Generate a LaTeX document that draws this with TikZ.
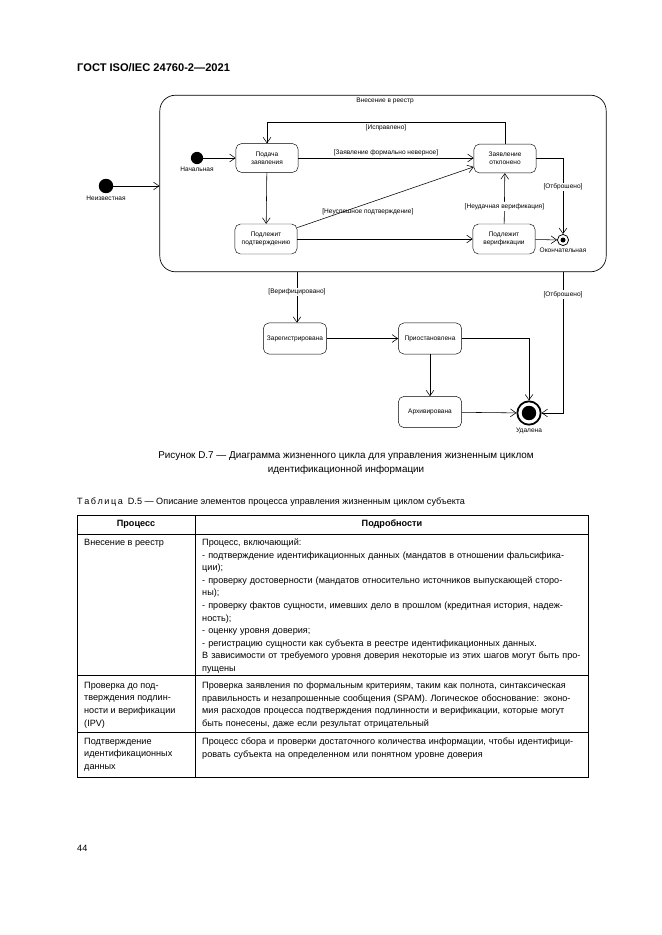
\documentclass[tikz,border=0pt]{standalone}
\usepackage{fontspec}
\setmainfont{Liberation Sans}
\usetikzlibrary{arrows.meta,positioning}
\newlength{\detw}
\setlength{\detw}{339pt}
\newcommand{\jl}[1]{\makebox[\detw][s]{#1}}
\begin{document}
\begin{tikzpicture}[x=0.9006pt,y=-0.9006pt,
    stbox/.style={draw,rounded corners=5pt,minimum width=56pt,minimum height=26pt,align=center,font=\fontsize{5.9}{7}\selectfont,inner sep=1pt},
    stlow/.style={stbox,minimum width=57pt,minimum height=28pt},
    startdot/.style={circle,fill,inner sep=0pt,minimum size=#1},
    lbl/.style={font=\fontsize{5.9}{7}\selectfont,inner sep=1pt},
    tr/.style={-{Straight Barb[length=5pt,width=7pt]},line width=0.5pt},
    celltext/.style={anchor=north west,align=left,inner sep=0pt,font=\fontsize{8.2}{11.26}\selectfont}]
\useasboundingbox (0,0) rectangle (661,935);
\node[anchor=west,font=\bfseries\fontsize{10}{12}\selectfont,inner sep=0pt] (gost) at (77,68) {ГОСТ ISO/IEC 24760-2—2021};
\node[draw,rounded corners=14pt,minimum width=402pt,minimum height=159pt,line width=0.6pt] (reestr) at (383,183.5) {};
\node[lbl] (reestrname) at (385,101) {Внесение в реестр};
\node[startdot=13pt] (neizv) at (106,186) {};
\node[lbl,below=1pt of neizv] (neizvname) {Неизвестная};
\node[startdot=11pt] (nach) at (197,158) {};
\node[lbl,below=1pt of nach] (nachname) {Начальная};
\node[stbox] (pz) at (267,158) {Подача\\заявления};
\node[stbox] (zo) at (505,158.5) {Заявление\\отклонено};
\node[stbox,minimum height=27pt] (pdt) at (266,239) {Подлежит\\подтверждению};
\node[stbox,minimum height=27pt] (pvr) at (504,239) {Подлежит\\верификации};
\node[circle,draw,line width=0.7pt,minimum size=10pt,inner sep=0pt] (okon) at (563,240) {};
\node[circle,fill,minimum size=4.5pt,inner sep=0pt] at (okon) {};
\node[lbl,below=1pt of okon] (okonname) {Окончательная};
\coordinate (ispr) at (505,122);
\coordinate (otbr) at (563,158.5);
\node[stlow] (zar) at (295,338.5) {Зарегистрирована};
\node[stlow] (prio) at (430,338.5) {Приостановлена};
\node[stlow] (arh) at (430,412) {Архивирована};
\node[circle,draw,line width=1.6pt,minimum size=21pt,inner sep=0pt] (udal) at (529,413) {};
\node[circle,fill,minimum size=13pt,inner sep=0pt] at (udal) {};
\node[lbl,below=1pt of udal] (udalname) {Удалена};
\coordinate (vyh) at (297,272);
\coordinate (vyh2) at (563,272);
\draw[tr] (neizv) -- (neizv -| reestr.west);
\draw[tr] (nach) -- (pz);
\draw[tr] (zo.north) -- (ispr) -| node[lbl,pos=0.25,below=1pt] {[Исправлено]} (pz.north);
\draw[tr] (pz.east) -- node[lbl,above=0.5pt] {[Заявление формально неверное]} (pz.east -| zo.west);
\draw[tr] (pz) -- (pdt);
\draw[tr] (pdt.20) -- node[lbl,pos=0.4,below=4pt] {[Неуспешное подтверждение]} (zo.195);
\draw[tr] (pdt) -- (pvr);
\draw[tr] (pvr) -- node[lbl,pos=0.34,fill=white] {[Неудачная верификация]} (zo);
\draw[tr] (zo.east) -- (otbr) -- node[lbl,pos=0.38,fill=white] {[Отброшено]} (okon);
\draw[tr] (pvr) -- (okon);
\draw[tr] (vyh) -- node[lbl,pos=0.4,fill=white] {[Верифицировано]} (vyh |- zar.north);
\draw[tr] (zar) -- (prio);
\draw[tr] (prio) -- (arh);
\draw[tr] (prio.east) -| (udal);
\draw[tr] (arh) -- (udal);
\draw[tr] (vyh2) -- node[lbl,pos=0.16,fill=white] {[Отброшено]} (vyh2 |- udal) -- (udal);
\node[align=center,font=\fontsize{8.9}{12}\selectfont] (caption) at (346,463) {Рисунок D.7 — Диаграмма жизненного цикла для управления жизненным циклом\\идентификационной информации};
\node[anchor=west,font=\fontsize{8.2}{10}\selectfont,inner sep=0pt] (tabname) at (77,502) {Т\,а\,б\,л\,и\,ц\,а\ \ D.5 — Описание элементов процесса управления жизненным циклом субъекта};
\draw[line width=0.8pt] (77,515) rectangle (588,777);
\draw[line width=0.45pt] (195,515) -- (195,777);
\draw[line width=0.45pt] (77,534) -- (588,534);
\draw[line width=0.45pt] (77,675) -- (588,675);
\draw[line width=0.45pt] (77,732) -- (588,732);
\node[font=\bfseries\fontsize{8.2}{10}\selectfont] (hproc) at (136,524) {Процесс};
\node[font=\bfseries\fontsize{8.2}{10}\selectfont] (hpodr) at (392,524) {Подробности};
\node[celltext] (c11) at (84,539) {Внесение в реестр};
\node[celltext,text width=\detw] (c12) at (202,539) {Процесс, включающий:\\
\jl{- подтверждение идентификационных данных (мандатов в отношении фальсифика-}\\
ции);\\
\jl{- проверку достоверности (мандатов относительно источников выпускающей сторо-}\\
ны);\\
\jl{- проверку фактов сущности, имевших дело в прошлом (кредитная история, надеж-}\\
ность);\\
- оценку уровня доверия;\\
- регистрацию сущности как субъекта в реестре идентификационных данных.\\
\jl{В зависимости от требуемого уровня доверия некоторые из этих шагов могут быть про-}\\
пущены};
\node[celltext] (c21) at (84,682) {Проверка до под-\\тверждения подлин-\\ности и верификации\\(IPV)};
\node[celltext,text width=\detw] (c22) at (202,682) {\jl{Проверка заявления по формальным критериям, таким как полнота, синтаксическая}\\
\jl{правильность и незапрошенные сообщения (SPAM). Логическое обоснование: эконо-}\\
\jl{мия расходов процесса подтверждения подлинности и верификации, которые могут}\\
быть понесены, даже если результат отрицательный};
\node[celltext] (c31) at (84,738) {Подтверждение\\идентификационных\\данных};
\node[celltext,text width=\detw] (c32) at (202,738) {\jl{Процесс сбора и проверки достаточного количества информации, чтобы идентифици-}\\
ровать субъекта на определенном или понятном уровне доверия};
\node[anchor=west,font=\fontsize{8.2}{10}\selectfont,inner sep=0pt] (pagenum) at (77,848) {44};
\end{tikzpicture}
\end{document}
